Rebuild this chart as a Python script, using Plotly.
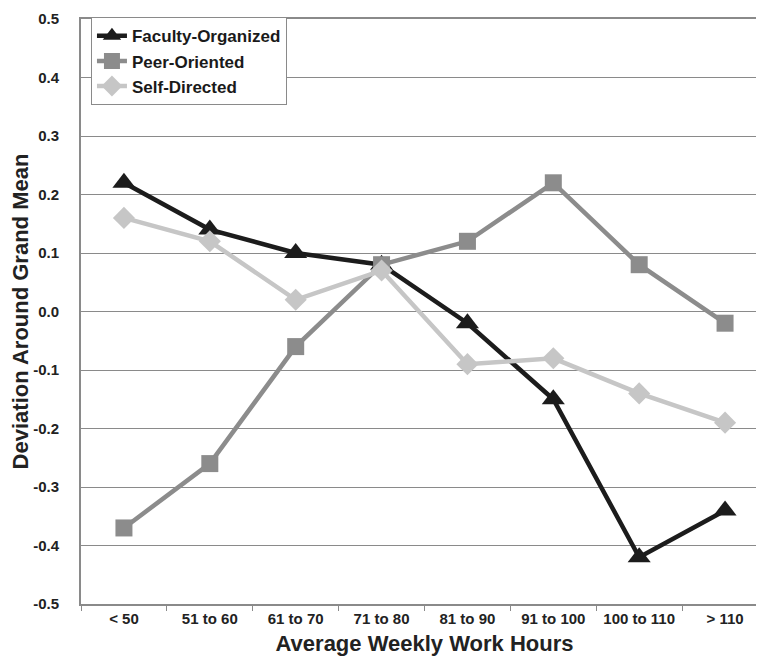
import plotly.graph_objects as go

categories = ["< 50", "51 to 60", "61 to 70", "71 to 80", "81 to 90", "91 to 100", "100 to 110", "> 110"]
faculty_organized = [0.22, 0.14, 0.10, 0.08, -0.02, -0.15, -0.42, -0.34]
peer_oriented = [-0.37, -0.26, -0.06, 0.08, 0.12, 0.22, 0.08, -0.02]
self_directed = [0.16, 0.12, 0.02, 0.07, -0.09, -0.08, -0.14, -0.19]
y_ticks = [-0.5, -0.4, -0.3, -0.2, -0.1, 0.0, 0.1, 0.2, 0.3, 0.4, 0.5]
y_tick_labels = ["-0.5", "-0.4", "-0.3", "-0.2", "-0.1", "0.0", "0.1", "0.2", "0.3", "0.4", "0.5"]

FONT = "Liberation Sans, Arial, sans-serif"

fig = go.Figure()
fig.add_trace(go.Scatter(
    x=categories, y=faculty_organized, name="Faculty-Organized", mode="lines+markers",
    line=dict(color="#1c1c1c", width=4.5),
    marker=dict(symbol="triangle-up", size=20, color="#1c1c1c"),
))
fig.add_trace(go.Scatter(
    x=categories, y=peer_oriented, name="Peer-Oriented", mode="lines+markers",
    line=dict(color="#8c8c8c", width=4.5),
    marker=dict(symbol="square", size=17, color="#8c8c8c"),
))
fig.add_trace(go.Scatter(
    x=categories, y=self_directed, name="Self-Directed", mode="lines+markers",
    line=dict(color="#c6c6c6", width=4.5),
    marker=dict(symbol="diamond", size=17, color="#c6c6c6"),
))

fig.update_layout(
    width=764, height=661,
    margin=dict(l=73, r=2, t=10, b=65),
    paper_bgcolor="white", plot_bgcolor="white",
    font=dict(family=FONT, color="#222222"),
    showlegend=True,
    legend=dict(
        x=0.0145, y=1.003, xanchor="left", yanchor="top",
        bgcolor="white", bordercolor="#8a8a8a", borderwidth=1,
        font=dict(size=17, family=FONT, color="#1a1a1a", weight="bold"),
        tracegroupgap=0, itemsizing="trace",
    ),
)
fig.update_xaxes(
    type="category", range=[-0.5, 7.5],
    showline=True, linecolor="#8a8a8a", linewidth=2, mirror=True,
    showgrid=False, ticks="outside", tickson="boundaries", ticklen=5, tickcolor="#8a8a8a",
    tickfont=dict(size=15, family=FONT, color="#222222", weight="bold"),
    title=dict(text="Average Weekly Work Hours", standoff=10,
               font=dict(size=22, family=FONT, color="#222222", weight="bold")),
)
fig.update_yaxes(
    range=[-0.5, 0.5], tickvals=y_ticks, ticktext=y_tick_labels,
    showline=True, linecolor="#8a8a8a", linewidth=2, mirror=True,
    showgrid=True, gridcolor="#8a8a8a", gridwidth=1, zeroline=False,
    ticks="", ticklabelstandoff=17,
    tickfont=dict(size=15, family=FONT, color="#222222", weight="bold"),
    title=dict(text="Deviation Around Grand Mean", standoff=5,
               font=dict(size=22, family=FONT, color="#222222", weight="bold")),
)

fig.write_html("out.html")
